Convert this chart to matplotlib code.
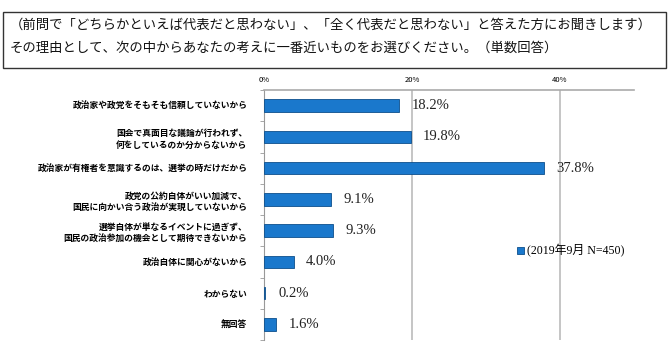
import matplotlib.pyplot as plt
from matplotlib.patches import Rectangle

categories = [
    "政治家や政党をそもそも信頼していないから",
    "国会で真面目な議論が行われず、\n何をしているのか分からないから",
    "政治家が有権者を意識するのは、選挙の時だけだから",
    "政党の公約自体がいい加減で、\n国民に向かい合う政治が実現していないから",
    "選挙自体が単なるイベントに過ぎず、\n国民の政治参加の機会として期待できないから",
    "政治自体に関心がないから",
    "わからない",
    "無回答",
]
values = [18.2, 19.8, 37.8, 9.1, 9.3, 4.0, 0.2, 1.6]
xticks = [0, 20, 40]
xtick_labels = ["0%", "20%", "40%"]
series_label = "(2019年9月 N=450)"
question = [
    "（前問で「どちらかといえば代表だと思わない」、「全く代表だと思わない」と答えた方にお聞きします）",
    "その理由として、次の中からあなたの考えに一番近いものをお選びください。（単数回答）",
]

JP = ["Noto Sans CJK JP", "DejaVu Sans"]
SERIF = ["Liberation Serif", "Noto Sans CJK JP"]
BLUE = "#1a78cc"

fig = plt.figure(figsize=(6.7, 3.54), dpi=100)

# question box
fig.patches.append(Rectangle((3 / 670, 1 - 68 / 354), 663 / 670, 56 / 354,
                             transform=fig.transFigure, fill=False,
                             edgecolor="#333333", linewidth=1.0))
fig.text(10 / 670, 1 - 25 / 354, question[0], family=JP, fontsize=9.6,
         va="center", ha="left", color="#111111")
fig.text(10 / 670, 1 - 48 / 354, question[1], family=JP, fontsize=9.6,
         va="center", ha="left", color="#111111")

ax = fig.add_axes([264 / 670, 1 - 340 / 354, 370 / 670, 250 / 354])
y = list(range(len(categories)))
bars = ax.barh(y, values, height=0.4, color=BLUE, edgecolor="#0d4f8c",
               linewidth=0.6, label=series_label, zorder=3)
ax.set_ylim(len(categories) - 0.5, -0.5)
ax.set_xlim(0, 50)

for bar, v in zip(bars, values):
    ax.text(bar.get_width() + 1.7, bar.get_y() + bar.get_height() / 2,
            f"{v:.1f}%", va="center", ha="left", family=SERIF, fontsize=10.5,
            color="#222222")

ax.set_yticks(y)
ax.set_yticklabels(categories, family=JP, fontsize=6.3, fontweight="bold",
                   linespacing=1.5)
ax.set_yticks([i + 0.5 for i in range(-1, len(categories))], minor=True)
ax.tick_params(axis="y", which="major", length=0, pad=12)
ax.tick_params(axis="y", which="minor", length=3, color="#999999")

ax.xaxis.tick_top()
ax.set_xticks(xticks)
ax.set_xticklabels(xtick_labels, family=JP, fontsize=5.5)
ax.tick_params(axis="x", length=0, pad=4)
ax.grid(axis="x", color="#bbbbbb", linewidth=1.2, zorder=0)

for side in ["right", "bottom"]:
    ax.spines[side].set_visible(False)
ax.spines["top"].set_color("#aaaaaa")
ax.spines["top"].set_linewidth(1.2)
ax.spines["left"].set_color("#999999")

ax.legend(loc="center left", bbox_to_anchor=(0.655, 0.355), frameon=False,
          prop={"family": SERIF, "size": 8.6}, handlelength=0.6,
          handleheight=0.6, handletextpad=0.2)

fig.savefig("out.png", dpi=100)
